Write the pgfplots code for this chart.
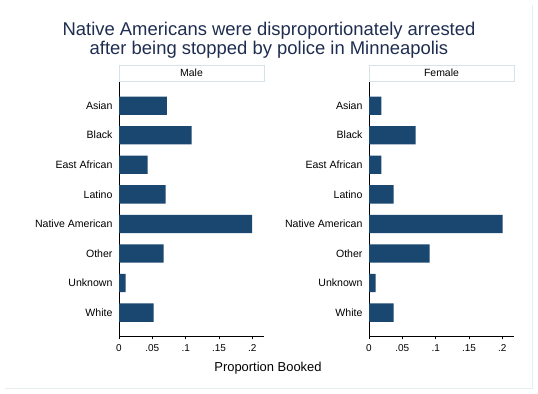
\documentclass[border=0pt]{standalone}
\usepackage{fontspec}
\setmainfont{Liberation Sans}
\usepackage{pgfplots}
\pgfplotsset{compat=1.18}
\definecolor{barc}{RGB}{26,71,111}
\definecolor{titc}{RGB}{30,45,80}
\definecolor{stripc}{RGB}{215,225,232}
\definecolor{framec}{RGB}{230,238,240}
\pgfplotsset{panel/.style={
  scale only axis, width=145bp, height=254bp, anchor=south west,
  xbar, bar width=18.3bp,
  xmin=0, xmax=0.2175, ymin=-0.79, ymax=7.8,
  ytick={0,...,7},
  yticklabels={White,Unknown,Other,Native American,Latino,East African,Black,Asian},
  xtick={0,0.05,0.1,0.15,0.2}, xticklabels={0,.05,.1,.15,.2},
  axis x line=bottom, axis y line=left,
  axis line style={-, line width=0.9bp, black},
  tick align=outside,
  x tick style={black, line width=0.9bp}, major tick length=3.5bp,
  y tick style={draw=none},
  xticklabel style={font=\fontsize{10}{11}\selectfont, yshift=-2bp},
  yticklabel style={font=\fontsize{10.6}{12}\selectfont, xshift=0.5bp},
  /pgf/number format/assume math mode=true,
  clip=false,
}}
\begin{document}
\begin{tikzpicture}
\path[use as bounding box] (0,0) rectangle (538bp,394bp);
\draw[framec, line width=0.8bp] (5bp,6bp) -- (532bp,6bp) -- (532bp,389bp);
% title
\node[anchor=base, font=\fontsize{18.5}{20}\selectfont, text=titc] at (269bp,358bp) {Native Americans were disproportionately arrested};
\node[anchor=base, font=\fontsize{18.5}{20}\selectfont, text=titc] at (269bp,339bp) {after being stopped by police in Minneapolis};
% strips
\draw[stripc, fill=white, line width=0.8bp] (119bp,313bp) rectangle (264bp,329bp);
\node[font=\fontsize{10.5}{12}\selectfont] at (191.5bp,321bp) {Male};
\draw[stripc, fill=white, line width=0.8bp] (369bp,313bp) rectangle (514bp,329bp);
\node[font=\fontsize{10.5}{12}\selectfont] at (441.5bp,321bp) {Female};
% Male
\begin{axis}[panel, at={(119bp,58bp)}]
\addplot[fill=barc, draw=none] coordinates {
(0.0717,7) (0.109,6) (0.043,5) (0.070,4) (0.1995,3) (0.067,2) (0.010,1) (0.052,0)};
\end{axis}
% Female
\begin{axis}[panel, at={(369bp,58bp)}]
\addplot[fill=barc, draw=none] coordinates {
(0.0185,7) (0.070,6) (0.0185,5) (0.037,4) (0.2005,3) (0.091,2) (0.010,1) (0.037,0)};
\end{axis}
\node[anchor=base, font=\fontsize{13}{15}\selectfont] at (268bp,22.3bp) {Proportion Booked};
\end{tikzpicture}
\end{document}
